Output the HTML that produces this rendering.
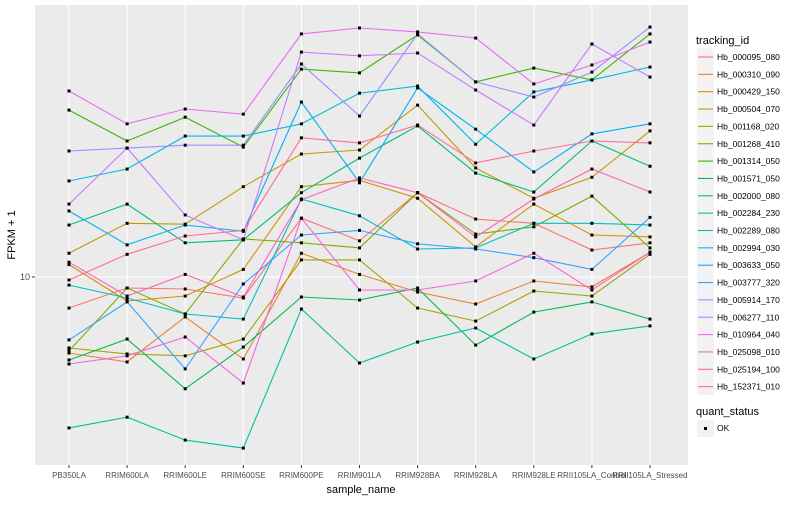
<!DOCTYPE html>
<html><head><meta charset="utf-8"><style>
body{margin:0;background:#fff;font-family:"Liberation Sans",sans-serif;}
svg text{font-family:"Liberation Sans",sans-serif;}
</style></head><body>
<svg id="chart" width="800" height="500" xmlns="http://www.w3.org/2000/svg">
<rect x="0" y="0" width="800" height="500" fill="#fff"/>
<rect x="35" y="5" width="653" height="460" fill="#EBEBEB"/>
<g id="grid"></g><g id="series"></g><g id="xaxis"></g><g id="yaxis"></g><g id="legend"></g>
<text x="361" y="493" text-anchor="middle" font-size="11" fill="#000">sample_name</text>
<text transform="translate(15,235) rotate(-90)" text-anchor="middle" font-size="11" fill="#000">FPKM + 1</text>
</svg>
<script>
const categories=["PB350LA","RRIM600LA","RRIM600LE","RRIM600SE","RRIM600PE","RRIM901LA","RRIM928BA","RRIM928LA","RRIM928LE","RRII105LA_Control","RRII105LA_Stressed"];
const seriesNames=["Hb_000095_080","Hb_000310_090","Hb_000429_150","Hb_000504_070","Hb_001168_020","Hb_001268_410","Hb_001314_050","Hb_001571_050","Hb_002000_080","Hb_002284_230","Hb_002289_080","Hb_002994_030","Hb_003633_050","Hb_003777_320","Hb_005914_170","Hb_006277_110","Hb_010964_040","Hb_025098_010","Hb_025194_100","Hb_152371_010"];
const seriesColors=["#F8766D","#EA8331","#D89000","#C09B00","#A3A500","#7CAE00","#39B600","#00BB4E","#00BF7D","#00C1A3","#00BFC4","#00BAE0","#00B0F6","#35A2FF","#9590FF","#C77CFF","#E76BF3","#FA62DB","#FF62BC","#FF6C91"];
const s01=[7.88,9.19,9.12,8.51,15.7,13.2,19.1,15.6,15.1,12.3,13.0];
const s02=[5.58,5.21,7.36,5.33,12.0,10.2,8.91,8.13,9.70,9.27,12.1];
const s03=[11.0,8.32,8.64,10.6,20.0,21.0,18.3,12.6,17.5,13.8,13.6];
const s04=[12.0,15.1,15.0,20.0,25.7,26.5,37.4,23.1,18.3,21.5,30.7];
const s05=[5.80,5.54,5.46,6.21,11.4,11.4,7.88,7.13,8.98,8.64,11.9];
const s06=[5.67,9.19,7.53,13.4,13.0,12.5,19.1,13.9,14.7,18.6,12.5];
const s07=[36.0,28.4,34.1,27.1,49.3,47.9,64.1,44.7,49.7,45.4,64.6];
const s08=[5.29,6.21,4.24,5.84,8.58,8.38,9.19,5.93,7.64,8.26,7.24];
const s09=[14.9,17.5,13.0,13.3,19.1,24.9,31.9,22.2,19.2,28.4,23.4];
const s10=[3.14,3.41,2.86,2.69,7.82,5.17,6.07,6.76,5.33,6.46,6.87];
const s11=[9.40,8.51,7.53,7.24,18.2,16.0,12.4,12.5,15.1,15.1,14.9];
const s12=[20.9,22.9,29.5,29.5,32.4,41.0,43.3,27.7,41.4,45.4,50.1];
const s13=[16.6,12.8,14.9,14.2,38.3,20.6,42.7,31.1,22.4,30.0,32.4];
const s14=[6.17,8.26,4.94,9.48,13.8,14.3,12.9,12.4,11.6,10.6,15.8];
const s15=[26.3,26.9,27.5,27.5,51.3,34.4,64.6,44.7,39.8,48.2,68.1];
const s16=[17.5,26.9,16.1,13.3,56.2,54.6,55.8,42.0,32.1,59.8,46.4];
const s17=[41.7,32.4,36.3,34.9,64.6,67.6,65.6,62.6,44.0,50.9,60.7];
const s18=[5.13,5.46,6.31,4.43,15.7,9.05,9.05,9.70,12.0,9.05,12.1];
const s19=[11.2,8.64,10.2,8.58,18.1,21.4,19.1,13.6,18.2,22.9,19.2];
const s20=[9.77,11.9,13.7,14.3,29.1,28.0,32.1,24.0,26.3,28.4,28.0];
const seriesValues=[s01,s02,s03,s04,s05,s06,s07,s08,s09,s10,s11,s12,s13,s14,s15,s16,s17,s18,s19,s20];
const yTicks=[10];
const yTickLabels=["10"];

const NS="http://www.w3.org/2000/svg";
const X0=69, DX=58.1;
function xPos(i){return X0+i*DX;}
function yPos(v){return 277-300*(Math.log10(v)-1);}
function mk(tag,attrs,parent){const e=document.createElementNS(NS,tag);for(const k in attrs)e.setAttribute(k,attrs[k]);parent.appendChild(e);return e;}
const grid=document.getElementById('grid'),ser=document.getElementById('series'),xa=document.getElementById('xaxis'),ya=document.getElementById('yaxis'),lg=document.getElementById('legend');
yTicks.forEach((t,i)=>{
  const l=mk('line',{x1:35,x2:688,y1:yPos(t),y2:yPos(t),stroke:'#fff','stroke-width':1.1},grid);
  
  
  const tk=mk('line',{x1:32,x2:35,y1:yPos(t),y2:yPos(t),stroke:'#333','stroke-width':1},ya);
  
  
  const tx=mk('text',{x:30,y:yPos(t)+3,'text-anchor':'end','font-size':9,fill:'#4d4d4d'},ya);
  tx.textContent=yTickLabels[i];
  
  
});
categories.forEach((c,i)=>{
  const l=mk('line',{x1:xPos(i),x2:xPos(i),y1:5,y2:465,stroke:'#fff','stroke-width':1.1},grid);
  
  
  const tk=mk('line',{x1:xPos(i),x2:xPos(i),y1:465,y2:468,stroke:'#333'},xa);
  
  
  const tx=mk('text',{x:xPos(i),y:478,'text-anchor':'middle','font-size':8,fill:'#4d4d4d'},xa);
  tx.textContent=c;
  
  
});
seriesValues.forEach((vals,s)=>{
  const pts=vals.map((v,i)=>xPos(i).toFixed(1)+','+yPos(v).toFixed(1)).join(' ');
  const pl=mk('polyline',{points:pts,fill:'none',stroke:seriesColors[s],'stroke-width':1.1},ser);
  
  
});
seriesValues.forEach((vals,s)=>{
  vals.forEach((v,i)=>{
    const r=mk('rect',{x:xPos(i)-1.5,y:yPos(v)-1.5,width:3,height:3,fill:'#000'},ser);
    
    
  });
});
const lt=mk('text',{x:696,y:44,'font-size':11,fill:'#000'},lg);
lt.textContent='tracking_id';


seriesNames.forEach((n,s)=>{
  const cy=57+s*17.35;
  const g=mk('g',{},lg);
  
  
  mk('rect',{x:697,y:cy-8.5,width:17,height:17,fill:'#F2F2F2'},g);
  mk('line',{x1:698,x2:713,y1:cy,y2:cy,stroke:seriesColors[s],'stroke-width':1.1},g);
  const t=mk('text',{x:717,y:cy+3,'font-size':8.5,fill:'#000'},g);
  t.textContent=n;
});
const qt=mk('text',{x:696,y:415,'font-size':11,fill:'#000'},lg);
qt.textContent='quant_status';


const qg=mk('g',{},lg);


mk('rect',{x:697,y:420,width:17,height:17,fill:'#F2F2F2'},qg);
mk('rect',{x:704,y:427,width:3,height:3,fill:'#000'},qg);
const qx=mk('text',{x:717,y:431,'font-size':8.5,fill:'#000'},qg);
qx.textContent='OK';
</script>
</body></html>
